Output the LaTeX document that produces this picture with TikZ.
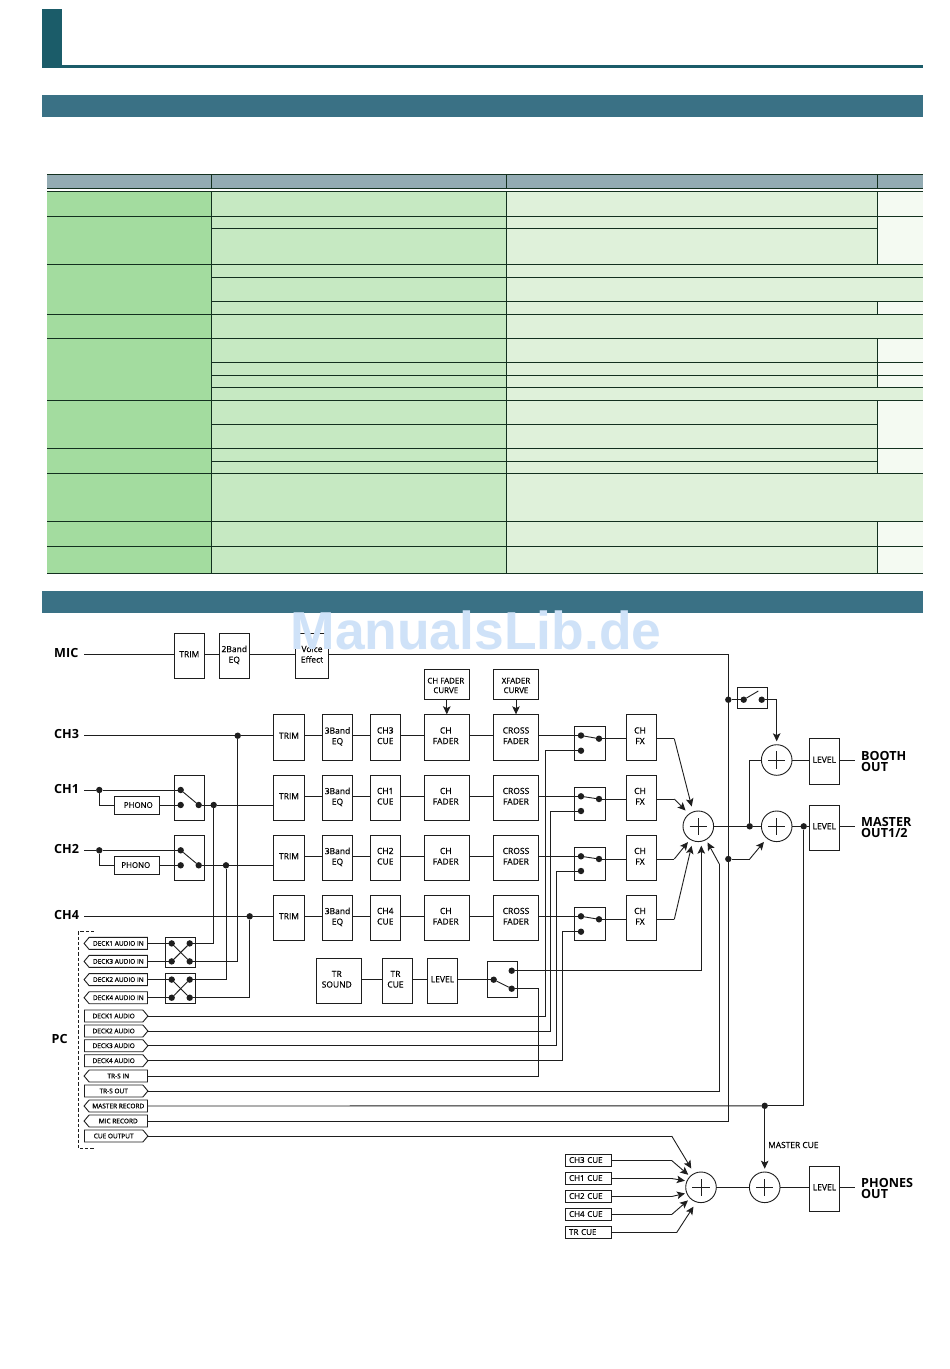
\documentclass[tikz,border=0pt]{standalone}
\usepackage{fontspec}
\setmainfont{Open Sans}
\newfontfamily\wmfont{Liberation Sans}
\newfontfamily\boxfont{Open Sans}[FakeBold=0.35]
\newfontfamily\tagfont{Open Sans}[FakeBold=0.6]
\usetikzlibrary{arrows.meta,shapes.symbols}
\definecolor{titleteal}{HTML}{1B5C69}
\definecolor{barteal}{HTML}{3A7185}
\definecolor{headgrey}{HTML}{93ABB3}
\definecolor{colA}{HTML}{A3DC9F}
\definecolor{colB}{HTML}{C6E9C2}
\definecolor{colC}{HTML}{DFF1DA}
\definecolor{colD}{HTML}{F4FAF2}
\definecolor{rulec}{HTML}{13301F}
\definecolor{wirec}{HTML}{1E1E1E}
\definecolor{wmc}{HTML}{CFE2F8}
\tikzset{
  blockbox/.style={draw=wirec,line width=0.9pt,fill=white,inner sep=0pt,outer sep=0pt,align=center,text depth=3.2pt,
     font=\fontsize{8.5}{10.6}\selectfont\boxfont},
  smallbox/.style={blockbox,text depth=1pt,font=\fontsize{7.9}{9.6}\selectfont\boxfont},
  cuebox/.style={smallbox,align=left,text width=38.8pt,font=\fontsize{8}{9.6}\selectfont\boxfont},
  wire/.style={draw=wirec,line width=0.9pt},
  arr/.style={wire,-{Stealth[length=8pt,width=7.5pt,inset=1.8pt]}},
  jdot/.style={circle,fill=wirec,inner sep=0pt,outer sep=0pt,minimum size=6.4pt},
  sumnode/.style={circle,draw=wirec,line width=0.9pt,fill=white,inner sep=0pt,outer sep=0pt,minimum size=30.6pt,
     path picture={\draw[wirec,line width=1pt] (-8.6pt,0)--(8.6pt,0) (0,-8.6pt)--(0,8.6pt);}},
  biglabel/.style={anchor=west,inner sep=0pt,align=left,font=\fontsize{12.6}{11}\selectfont\bfseries},
  tagout/.style={signal,signal to=east,signal from=nowhere,signal pointer angle=100,draw=wirec,line width=0.9pt,
     fill=white,inner sep=0pt,outer sep=0pt,minimum width=63.4pt,minimum height=12pt,
     font=\fontsize{6.5}{7}\selectfont\tagfont},
  tagin/.style={tagout,signal to=west},
  tableline/.style={draw=rulec,line width=0.75pt},
}
\newcommand{\bx}[7][blockbox]{%
  \node[#1,minimum width={(#5-#3)*1pt},minimum height={(#6-#4)*1pt}] (#2) at ({(#3+#5)/2},{(#4+#6)/2}) {#7};}
\newcommand{\cell}[5]{\fill[#1] (#2,#3) rectangle (#4,#5);}
\begin{document}
\begin{tikzpicture}[x=1pt,y=-1pt]
\useasboundingbox (0,0) rectangle (950,1369);
\fill[white] (0,0) rectangle (950,1369);
% page header
\fill[titleteal] (42,9) rectangle (61.5,67.7);
\fill[titleteal] (42,65) rectangle (923,67.7);
\fill[barteal] (42,95) rectangle (923,117);
\fill[barteal] (42,591) rectangle (923,613);
% table fills
\cell{headgrey}{47}{174.3}{923}{188.3}
\cell{colA}{47}{191.3}{211.5}{573.3}
\cell{colB}{211.5}{191.3}{506.5}{573.3}
\cell{colC}{506.5}{191.3}{923}{573.3}
\foreach \a/\b in {191.3/264.3,301.3/314.3,338.3/387.3,400.3/473.3,521.3/573.3}
  {\cell{colD}{877.5}{\a}{923}{\b}}
% table rules: full width
\foreach \yy in {174.3,188.3,191.3,216,264.3,314.3,338.3,400.3,448.3,473.3,521.3,546.7,573.3}
  {\draw[tableline] (47,\yy) -- (923,\yy);}
% table rules: from column 2
\foreach \yy in {277.3,301.3,362.3,375.3,387.3}
  {\draw[tableline] (211.5,\yy) -- (923,\yy);}
\foreach \yy in {228.3,424.3,461.3}
  {\draw[tableline] (211.5,\yy) -- (877.5,\yy);}
% table verticals
\foreach \xx in {211.5,506.5} {\draw[tableline] (\xx,174.3) -- (\xx,188.3) (\xx,191.3) -- (\xx,573.3);}
\foreach \a/\b in {174.3/188.3,191.3/264.3,301.3/314.3,338.3/387.3,400.3/473.3,521.3/573.3}
  {\draw[tableline] (877.5,\a) -- (877.5,\b);}

% ---------- labels ----------
\node[biglabel] (lmic) at (54,653) {MIC};
\node[biglabel] (lch3) at (54,734) {CH3};
\node[biglabel] (lch1) at (54,788.5) {CH1};
\node[biglabel] (lch2) at (54,848.5) {CH2};
\node[biglabel] (lch4) at (54,915) {CH4};
\node[biglabel] (lpc) at (51.5,1038.5) {PC};
\node[biglabel] (lbooth) at (861,761.5) {BOOTH\\OUT};
\node[biglabel] (lmaster) at (861,827.5) {MASTER\\OUT1/2};
\node[biglabel] (lphones) at (861,1188.5) {PHONES\\OUT};
\node[anchor=west,inner sep=0pt,font=\fontsize{8.4}{9}\selectfont\boxfont] (lmcue) at (768,1145) {MASTER CUE};

% ---------- mic chain ----------
\coordinate (micin) at (84.3,654.3);
\bx{mtrim}{174.3}{633.3}{204.3}{678.3}{TRIM}
\bx{meq}{219.3}{633.3}{249.3}{678.3}{2Band\\EQ}
\bx{mvoice}{295.3}{633.3}{328.7}{678.3}{Voice\\Effect}

% ---------- channel rows ----------
\foreach \r/\t/\b/\cue/\wy/\sa/\sb/\sc/\st in {
   1/714.3/760.3/CH3/735.5/735.5/750.7/738.7/726.3,
   2/775.3/820.3/CH1/796/796.3/811/799/787.3,
   3/835.3/880.3/CH2/856.3/856.3/871/859/847.3,
   4/895.3/940.3/CH4/916.3/916.3/931.7/919.3/907.3}{
  \coordinate (wy\r) at (0,\wy);
  \bx{trim\r}{273.3}{\t}{304.7}{\b}{TRIM}
  \bx{eq\r}{322.3}{\t}{352.7}{\b}{3Band\\EQ}
  \bx{cue\r}{370.3}{\t}{400.3}{\b}{\cue\\CUE}
  \bx{fad\r}{424.3}{\t}{469.3}{\b}{CH\kern2pt\\FADER\kern2pt}
  \bx{xf\r}{493.3}{\t}{538.7}{\b}{CROSS\\FADER}
  \bx{sw\r}{574.3}{\st}{605.3}{\b}{}
  \bx{fx\r}{626.3}{\t}{656.3}{\b}{CH\kern2.6pt\\FX\kern2.6pt}
  \node[jdot] (swa\r) at (581,\sa) {};
  \node[jdot] (swb\r) at (581,\sb) {};
  \node[jdot] (swc\r) at (599,\sc) {};
  \draw[wire] (swa\r) -- (swc\r);
  \draw[wire] (trim\r.east |- wy\r) -- (eq\r.west |- wy\r);
  \draw[wire] (eq\r.east |- wy\r) -- (cue\r.west |- wy\r);
  \draw[wire] (cue\r.east |- wy\r) -- (fad\r.west |- wy\r);
  \draw[wire] (fad\r.east |- wy\r) -- (xf\r.west |- wy\r);
  \draw[wire] (xf\r.east |- swa\r) -- (swa\r);
  \draw[wire] (swc\r) -- (fx\r.west |- swc\r);
}
\bx[smallbox]{cfc}{424.3}{669.3}{469.3}{699.3}{\rule{0pt}{9pt}CH FADER\kern2pt\\CURVE\kern2pt}
\bx[smallbox]{xfc}{493.3}{669.3}{538.7}{699.3}{\rule{0pt}{9pt}XFADER\\CURVE}
\draw[arr] (cfc.south) -- (cfc.south |- fad1.north);
\draw[arr] (xfc.south) -- (xfc.south |- xf1.north);

% ---------- sums ----------
\node[sumnode] (s1) at (698.3,826.3) {};
\node[sumnode] (s2) at (776.7,826.3) {};
\node[sumnode] (s3) at (776.7,760) {};
\node[sumnode] (s4) at (701,1187.3) {};
\node[sumnode] (s5) at (764.7,1187.3) {};
\bx{lvb}{809.3}{738.3}{839.3}{784.3}{LEVEL}
\bx{lvm}{809.3}{805.3}{839.3}{850.3}{LEVEL}
\bx{lvp}{809.3}{1166.3}{839.7}{1211.3}{LEVEL}

% ---------- CH1 / CH2 inputs ----------
\foreach \n/\ya/\yb/\jx/\top/\bot/\pa/\phk in {1/790/805/213.7/775.3/820.3/796.3/\kern3pt PHONO, 2/850.3/865.3/226/835.3/880.3/856.3/PHONO\kern2pt}{
  \coordinate (in\n) at (84.3,\ya);
  \node[jdot] (ij\n) at (99.3,\ya) {};
  \pgfmathsetmacro\pb{\pa+18.4}
  \bx[smallbox]{ph\n}{114.3}{\pa}{159.3}{\pb}{\phk}
  \bx{isw\n}{174.3}{\top}{204.3}{\bot}{}
  \node[jdot] (ia\n) at (180.7,\ya) {};
  \node[jdot] (ib\n) at (180.7,\yb) {};
  \node[jdot] (ic\n) at (198.7,\yb) {};
  \node[jdot] (ot\n) at (\jx,\yb) {};
  \draw[wire] (in\n) -- (ij\n);
  \draw[wire] (ij\n) -- (ia\n);
  \draw[wire] (ij\n) |- (ph\n.west |- ib\n);
  \draw[wire] (ph\n.east |- ib\n) -- (ib\n);
  \draw[wire] (ia\n) -- (ic\n);
  \draw[wire] (ic\n) -- (ot\n);
}
\draw[wire] (ot1) -- (trim2.west |- ot1);
\draw[wire] (ot2) -- (trim3.west |- ot2);
\coordinate (in3) at (84.3,735.7);
\coordinate (in4) at (84.3,916.3);
\node[jdot] (ot3) at (237.7,735.7) {};
\node[jdot] (ot4) at (249.7,916.3) {};
\draw[wire] (in3) -- (ot3);
\draw[wire] (ot3) -- (trim1.west |- ot3);
\draw[wire] (in4) -- (ot4);
\draw[wire] (ot4) -- (trim4.west |- ot4);

% ---------- PC ----------
\draw[wire,dashed,dash pattern=on 3.2pt off 2pt] (94,931.7) -- (78.3,931.7) -- (78.3,1148.3) -- (94,1148.3);
\foreach \n/\t/\yy in {d1/DECK1 AUDIO IN/943.4, d3/DECK3 AUDIO IN/961.4, d2/DECK2 AUDIO IN/979.6, d4/DECK4 AUDIO IN/997.7,
   ts/TR-S IN/1076, mr/MASTER RECORD/1106, mc/MIC RECORD/1121}{
  \node[tagin] (t\n) at (118.3,\yy) {\t};
}
\foreach \n/\t/\yy in {a1/DECK1 AUDIO/1016, a2/DECK2 AUDIO/1031, a3/DECK3 AUDIO/1045.7, a4/DECK4 AUDIO/1060.7,
   to/TR-S OUT/1091, co/CUE OUTPUT/1136}{
  \node[tagout] (t\n) at (113.7,\yy) {\t};
}
\bx{xa}{165.3}{937.3}{195.7}{967.3}{}
\bx{xb}{165.3}{973.3}{195.7}{1003.3}{}
\node[jdot] (xa1) at (171.7,943.4) {};
\node[jdot] (xa2) at (189.7,943.4) {};
\node[jdot] (xa3) at (171.7,961.4) {};
\node[jdot] (xa4) at (189.7,961.4) {};
\node[jdot] (xb1) at (171.7,979.6) {};
\node[jdot] (xb2) at (189.7,979.6) {};
\node[jdot] (xb3) at (171.7,997.7) {};
\node[jdot] (xb4) at (189.7,997.7) {};
\draw[wire] (xa1) -- (xa4);
\draw[wire] (xa3) -- (xa2);
\draw[wire] (xb1) -- (xb4);
\draw[wire] (xb3) -- (xb2);
\draw[wire] (td1.east) -- (xa1);
\draw[wire] (td3.east) -- (xa3);
\draw[wire] (td2.east) -- (xb1);
\draw[wire] (td4.east) -- (xb3);
\draw[wire] (xa2) -| (ot1);
\draw[wire] (xa4) -| (ot3);
\draw[wire] (xb2) -| (ot2);
\draw[wire] (xb4) -| (ot4);

% ---------- deck audio to FX switches ----------
\foreach \n/\r/\xx in {a1/1/545, a2/2/550.8, a3/3/556.7, a4/4/562.7}{
  \draw[wire] (t\n.east) -- (\xx,0 |- t\n.east) -- (\xx,0 |- swb\r) -- (swb\r);
}

% ---------- TR row ----------
\bx{trs}{316.3}{958.3}{361.7}{1003.3}{TR\kern4.5pt\\SOUND\kern4.5pt}
\bx{trc}{382.3}{958.3}{412.7}{1003.3}{TR\kern4pt\\CUE\kern4pt}
\bx{trl}{427.3}{958.3}{457.7}{1003.3}{LEVEL}
\bx{trsw}{487.3}{961.3}{517.7}{997.3}{}
\node[jdot] (tra) at (493.7,979.7) {};
\node[jdot] (trb) at (511.7,970.7) {};
\node[jdot] (trd) at (511.7,988.7) {};
\draw[wire] (trs.east |- tra) -- (trc.west |- tra);
\draw[wire] (trc.east |- tra) -- (trl.west |- tra);
\draw[wire] (trl.east |- tra) -- (tra);
\draw[wire] (tra) -- (trd);
\draw[wire] (trd) -- (538.7,0 |- trd) -- (538.7,0 |- tts.east) -- (tts.east);

% ---------- FX to main sum ----------
\foreach \r/\ang/\sh in {1/110/5.6, 2/127/5, 3/238/3.6, 4/249/5.4}{
  \draw[wire] (fx\r.east |- swc\r) -- (674.3,0 |- swc\r);
  \draw[arr,shorten >=\sh pt] (674.3,0 |- swc\r) -- (s1.\ang);
}
\draw[arr] (trb) -| (701.3,845.7);
\draw[wire] (tto.east) -- (719.3,0 |- tto.east) -- (719.3,864);
\draw[arr,shorten >=3.3pt] (719.3,864) -- (s1.300);

% ---------- mic line ----------
\draw[wire] (micin) -- (mtrim.west |- micin);
\draw[wire] (mtrim.east |- micin) -- (meq.west |- micin);
\draw[wire] (meq.east |- micin) -- (mvoice.west |- micin);
\draw[wire] (mvoice.east |- micin) -- (728.3,0 |- micin) -- (728.3,0 |- tmc.east) -- (tmc.east);
\node[jdot] (mja) at (728.3,699.7) {};
\node[jdot] (mjb) at (728.3,859) {};

% ---------- booth / master ----------
\bx{bsw}{737.3}{687.3}{767.7}{708.3}{}
\node[jdot] (bsa) at (743.7,699.7) {};
\node[jdot] (bsb) at (761.7,699.7) {};
\coordinate (bsarm) at (758.3,691);
\draw[wire] (bsa) -- (bsarm);
\draw[wire] (mja) -- (bsa);
\draw[arr,shorten >=3.4pt] (bsb) -| (s3.north);
\node[jdot] (sj) at (749.7,826.3) {};
\draw[wire] (s1) -- (sj);
\draw[wire] (sj) -- (s2);
\draw[wire] (sj) |- (s3);
\draw[wire] (mjb) -- (749.7,859);
\draw[arr,shorten >=4.9pt] (749.7,859) -- (s2.231);
\draw[wire] (s3) -- (lvb.west |- s3);
\node[jdot] (mo) at (803.7,826.3) {};
\draw[wire] (s2) -- (mo);
\draw[wire] (mo) -- (lvm.west |- mo);
\coordinate (ob) at (855,760);
\coordinate (om) at (855,826.3);
\coordinate (op) at (855,1187.3);
\draw[wire] (lvb.east |- s3) -- (ob);
\draw[wire] (lvm.east |- mo) -- (om);
\node[jdot] (mcj) at (764.7,1105.8) {};
\draw[wire] (tmr.east) -- (mcj);
\draw[wire] (mcj) -| (mo);
\draw[arr,shorten >=3.3pt] (mcj) -- (s5);
\draw[wire] (s4) -- (s5);
\draw[wire] (s5) -- (lvp.west |- s5);
\draw[wire] (lvp.east |- s5) -- (op);

% ---------- cue tags ----------
\bx[cuebox]{c3}{565.3}{1154.7}{611.7}{1166.3}{CH3 CUE}
\bx[cuebox]{c1}{565.3}{1172.7}{611.7}{1184.3}{CH1 CUE}
\bx[cuebox]{c2}{565.3}{1190.7}{611.7}{1202.3}{CH2 CUE}
\bx[cuebox]{c4}{565.3}{1208.7}{611.7}{1220.3}{CH4 CUE}
\bx[cuebox]{c5}{565.3}{1226.7}{611.7}{1238.3}{TR CUE}
\draw[wire] (tco.east) -- (671.7,0 |- tco.east);
\draw[arr,shorten >=5.9pt] (671.7,0 |- tco.east) -- (s4.116);
\foreach \n/\bend/\ang/\sh in {c3/671.7/135/2.6, c1/671.7/156/2.2, c2/671.7/202/1.9, c4/671.7/226.5/3.2, c5/676.7/253/5.6}{
  \draw[wire] (\n.east) -- (\bend,0 |- \n.east);
  \draw[arr,shorten >=\sh pt] (\bend,0 |- \n.east) -- (s4.\ang);
}

% ---------- watermark ----------
\node[inner sep=0pt,anchor=base,text=wmc,font=\fontsize{53.4}{60}\selectfont\wmfont\bfseries] (wm) at (476,649.3) {ManualsLib.de};
\end{tikzpicture}
\end{document}
